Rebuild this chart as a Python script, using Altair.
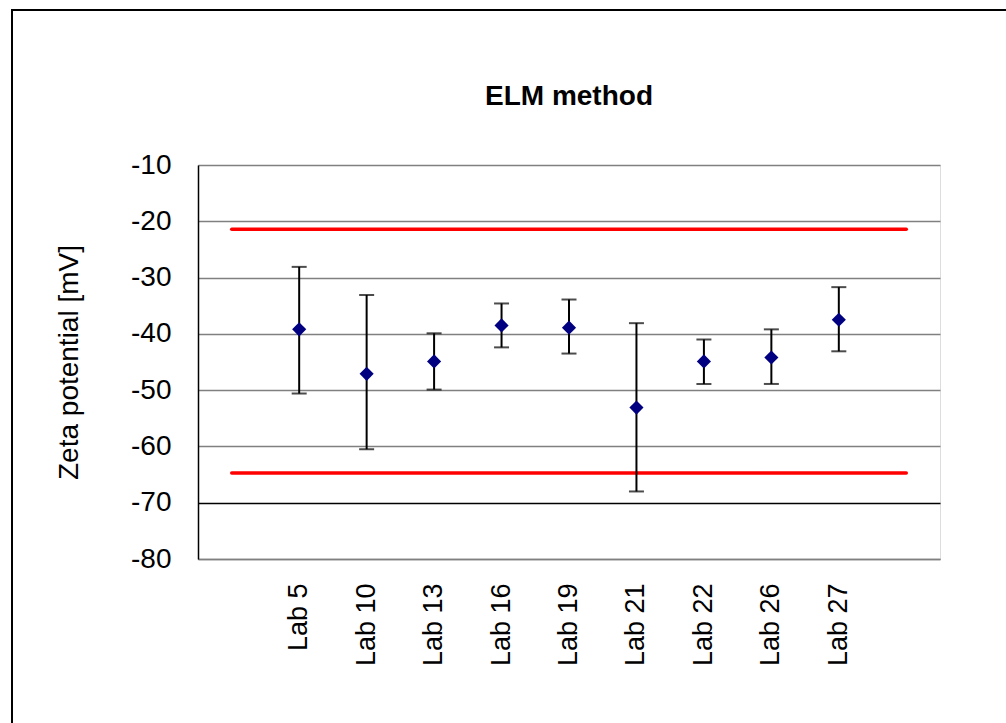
import altair as alt
import pandas as pd

# Laboratories and their zeta potential results (mean with lower/upper bounds), mV
labs = ["Lab 5", "Lab 10", "Lab 13", "Lab 16", "Lab 19", "Lab 21", "Lab 22", "Lab 26", "Lab 27"]
zeta_mean = [-39.2, -47.1, -44.9, -38.5, -38.9, -53.1, -44.9, -44.2, -37.5]
zeta_low = [-50.6, -60.5, -49.9, -42.4, -43.5, -68.0, -48.9, -48.9, -43.1]
zeta_high = [-28.1, -33.1, -39.9, -34.6, -33.9, -38.1, -41.0, -39.2, -31.7]

# Acceptance limits drawn as horizontal red lines across the empty edge categories
limit_upper = -21.4
limit_lower = -64.7
edge_left, edge_right = " ", "  "

y_ticks = [-80, -70, -60, -50, -40, -30, -20, -10]

FONT = "Liberation Sans"
categories = [edge_left] + labs + [edge_right]

df = pd.DataFrame({"lab": labs, "mean": zeta_mean, "low": zeta_low, "high": zeta_high})
limits = pd.DataFrame({
    "lab": [edge_left, edge_right, edge_left, edge_right],
    "value": [limit_upper, limit_upper, limit_lower, limit_lower],
    "which": ["upper", "upper", "lower", "lower"],
})

x_enc = alt.X(
    "lab:N",
    sort=categories,
    scale=alt.Scale(domain=categories, paddingInner=0, paddingOuter=0),
    axis=alt.Axis(
        title=None, labelAngle=270, labelFontSize=27, labelFont=FONT, labelColor="black",
        labelPadding=24, ticks=False, domainColor="#808080", domainWidth=1.5,
        grid=False, labelOverlap=False,
    ),
)
y_scale = alt.Scale(domain=[-80, -10], nice=False, zero=False)
y_axis = alt.Axis(
    title="Zeta potential [mV]", values=y_ticks, titleFontSize=28, titleFont=FONT,
    titleFontWeight="normal", titleColor="black", titleAngle=270,
    titleX=-129, titleY=197, titleAlign="center", titleBaseline="middle",
    labelFontSize=28, labelFont=FONT, labelColor="black", labelPadding=27,
    labelExpr="'-' + format(abs(datum.value), 'd')",
    ticks=False, domainColor="black", domainWidth=1.5,
    grid=True,
    gridColor=alt.condition("datum.value === -70", alt.value("black"), alt.value("#808080")),
    gridWidth=1.4,
)

base = alt.Chart(df)

frame = alt.Chart(pd.DataFrame({"k": [0]})).mark_rect(
    fillOpacity=0, stroke="black", strokeWidth=2, clip=False
).encode(
    x=alt.value(-186), x2=alt.value(830), y=alt.value(-155), y2=alt.value(580)
)

limit_lines = alt.Chart(limits).mark_line(
    color="#FF0000", strokeWidth=3.5, strokeCap="round"
).encode(
    x=x_enc,
    y=alt.Y("value:Q", scale=y_scale, axis=y_axis),
    detail="which:N",
)

bars = base.mark_rule(color="black", strokeWidth=2).encode(
    x=x_enc, y=alt.Y("low:Q", scale=y_scale), y2="high:Q"
)
cap_low = base.mark_tick(color="black", size=15, thickness=2).encode(
    x=x_enc, y=alt.Y("low:Q", scale=y_scale)
)
cap_high = base.mark_tick(color="black", size=15, thickness=2).encode(
    x=x_enc, y=alt.Y("high:Q", scale=y_scale)
)
points = base.mark_point(
    shape="diamond", filled=True, color="#000080", size=200, opacity=1
).encode(x=x_enc, y=alt.Y("mean:Q", scale=y_scale))

chart = alt.layer(frame, limit_lines, bars, cap_low, cap_high, points).properties(
    width=742,
    height=394,
    title=alt.TitleParams(
        "ELM method", fontSize=28, fontWeight="bold", font=FONT, color="black",
        anchor="middle", frame="group", offset=0, baseline="alphabetic", dy=124,
    ),
    autosize=alt.AutoSizeParams(type="none"),
    padding={"left": 198, "top": 165, "right": 66, "bottom": 164},
).configure_view(
    stroke="#808080", strokeWidth=1.5
).configure(background="white")

chart.save("out.html", embed_options={"renderer": "svg", "actions": False})
